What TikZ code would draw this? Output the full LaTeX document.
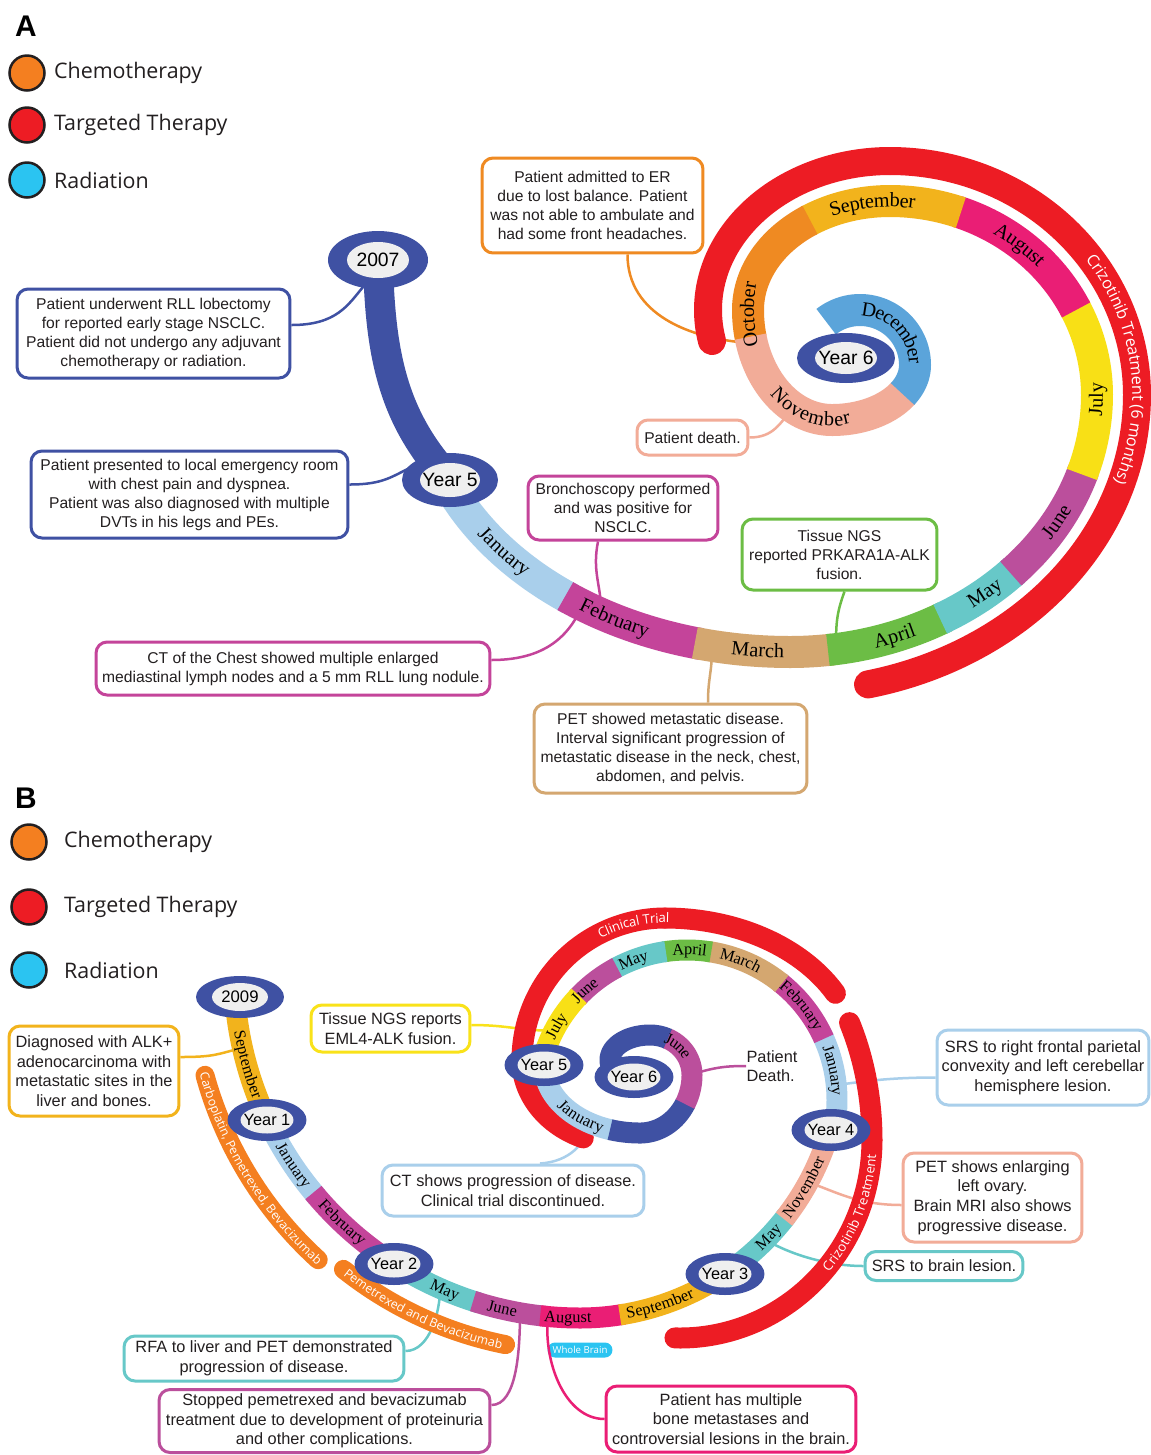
\documentclass[tikz,border=0pt]{standalone}
\usepackage{fontspec}
\setmainfont{Liberation Sans}
\newfontfamily\serifmonth{Liberation Serif}
\newfontfamily\legfont{Open Sans}
\usetikzlibrary{shapes.geometric, decorations.text, positioning}

\definecolor{yearblue}{HTML}{3F51A3}
\definecolor{ringin}{HTML}{EFEFEF}
\definecolor{janc}{HTML}{A9CFEB}
\definecolor{febc}{HTML}{C4449A}
\definecolor{marc}{HTML}{D4A770}
\definecolor{aprc}{HTML}{6CBD45}
\definecolor{mayc}{HTML}{67C8C8}
\definecolor{junc}{HTML}{BB4F9C}
\definecolor{julc}{HTML}{F8E016}
\definecolor{augc}{HTML}{EA1E75}
\definecolor{sepc}{HTML}{F2B31C}
\definecolor{octc}{HTML}{EF8A22}
\definecolor{novc}{HTML}{F2AC98}
\definecolor{decc}{HTML}{5BA4DA}
\definecolor{tred}{HTML}{ED1C24}
\definecolor{chemo}{HTML}{F47F20}
\definecolor{radio}{HTML}{2BC4F1}
\definecolor{inkc}{HTML}{231F20}
\definecolor{ngsyel}{HTML}{F9E21A}

\newcommand{\earc}[6]{plot[domain=#5:#6, samples=100] ({#1+#3*cos(\x)},{#2+#4*sin(\x)})}
\newcommand{\mA}{\serifmonth\fontsize{11.5}{12}\selectfont}
\newcommand{\mB}{\serifmonth\fontsize{9.3}{10}\selectfont}

\begin{document}
\begin{tikzpicture}[x=0.02cm, y=-0.02cm,
    bandA/.style={line width=0.64cm},
    bandB/.style={line width=0.42cm},
    redA/.style={line width=0.56cm, tred, line cap=round},
    redB/.style={line width=0.42cm, tred, line cap=round},
    chemobar/.style={line width=0.38cm, chemo, line cap=round},
    spine/.style={line width=0.6cm, yearblue},
    event/.style={draw=#1, line width=0.06cm, rounded corners=0.22cm, fill=white, align=center, inner sep=0pt, text=inkc, font=\fontsize{8.9}{10.8}\selectfont},
    eventB/.style={event=#1, font=\fontsize{9.3}{11.2}\selectfont},
    link/.style={draw=#1, line width=0.05cm},
    ring/.style={ellipse, fill=yearblue, inner sep=0pt},
    ringtext/.style={ellipse, fill=ringin, inner sep=0pt, text=black},
    legdot/.style={circle, draw=inkc, line width=0.05cm, minimum size=0.7cm, fill=#1},
    legtext/.style={font=\legfont\fontsize{12.2}{14}\selectfont, text=inkc, inner sep=0pt},
    alab/.style={decorate, decoration={text along path, text align=center, raise=-3.4pt, text={|\mA|#1}}},
    blab/.style={decorate, decoration={text along path, text align=center, raise=-2.8pt, text={|\mB|#1}}},
    wlab/.style 2 args={decorate, decoration={text along path, text align=center, raise=-2.7pt, text={|\color{white}\legfont\fontsize{#2}{#2}\selectfont|#1}}}
  ]
  \useasboundingbox (0,0) rectangle (1151,1455);
  \fill[white] (0,0) rectangle (1151,1455);

  % legend A
  \node[font=\bfseries\fontsize{17}{17}\selectfont] (tagA) at (26,26) {A};
  \node[legdot=chemo] (dA1) at (27,73) {};
  \node[legtext, right=0.16cm of dA1] (tA1) {Chemotherapy};
  \node[legdot=tred] (dA2) at (27,125) {};
  \node[legtext, right=0.16cm of dA2] (tA2) {Targeted Therapy};
  \node[legdot=radio] (dA3) at (27,180) {};
  \node[legtext, right=0.16cm of dA3] (tA3) {Radiation};

  % boxes A
  \node[event=yearblue, minimum width=5.46cm, minimum height=1.78cm] (a1) at (153.5,333.5) {Patient underwent RLL lobectomy\\for reported early stage NSCLC.\\Patient did not undergo any adjuvant\\chemotherapy or radiation.};
  \node[event=yearblue, minimum width=6.34cm, minimum height=1.74cm] (a2) at (189.5,494.5) {Patient presented to local emergency room\\with chest pain and dyspnea.\\Patient was also diagnosed with multiple\\DVTs in his legs and PEs.};
  \node[event=octc, minimum width=4.42cm, minimum height=1.9cm] (a3) at (592.5,205.5) {Patient admitted to ER\\due to lost balance. Patient\\was not able to ambulate and\\had some front headaches.};
  \node[event=novc, minimum width=2.22cm, minimum height=0.7cm] (a4) at (692.5,437.5) {Patient death.};
  \node[event=febc, minimum width=3.8cm, minimum height=1.28cm] (a5) at (623,508) {Bronchoscopy performed\\and was positive for\\NSCLC.};
  \node[event=febc, minimum width=7.88cm, minimum height=1.06cm] (a6) at (293,668.5) {CT of the Chest showed multiple enlarged\\mediastinal lymph nodes and a 5 mm RLL lung nodule.};
  \node[event=aprc, minimum width=3.9cm, minimum height=1.42cm] (a7) at (839.5,554.5) {Tissue NGS\\reported PRKARA1A-ALK\\fusion.};
  \node[event=marc, minimum width=5.46cm, minimum height=1.78cm] (a8) at (670.5,748.5) {PET showed metastatic disease.\\Interval significant progression of\\metastatic disease in the neck, chest,\\abdomen, and pelvis.};

  \coordinate (p2007) at (378,260);
  \coordinate (pY5a) at (450,480);
  \coordinate (pY6a) at (846,358);
  \coordinate (cA1) at (363,287);
  \coordinate (cA2) at (414,466);
  \coordinate (cA3) at (750,343);
  \coordinate (cA4) at (792,410);
  \coordinate (cA5) at (601,610);
  \coordinate (cA6) at (583,605);
  \coordinate (cA7) at (836,648);
  \coordinate (cA8) at (712,648);

  \draw[link=yearblue] ([yshift=0.17cm]a1.east) .. controls +(45,0) and +(-15,18) .. (cA1);
  \draw[link=yearblue] ([yshift=0.2cm]a2.east) .. controls +(35,0) and +(-22,10) .. (cA2);
  \draw[link=octc] ([xshift=0.7cm]a3.south) .. controls +(0,60) and +(-60,-4) .. (cA3);
  \draw[link=novc] (a4.east) .. controls +(25,0) and +(-12,12) .. (cA4);
  \draw[link=febc] ([xshift=-0.5cm]a5.south) .. controls +(-6,30) and +(0,-25) .. (cA5);
  \draw[link=febc] ([yshift=0.17cm]a6.east) .. controls +(60,0) and +(-12,25) .. (cA6);
  \draw[link=aprc] ([xshift=0.1cm]a7.south) .. controls +(-8,22) and +(0,-25) .. (cA7);
  \draw[link=marc] ([xshift=0.75cm]a8.north) .. controls +(0,-25) and +(0,25) .. (cA8);

  % crizotinib A
  \draw[redA] \earc{790}{395}{347}{297}{77}{0};
  \draw[redA] \earc{890}{395}{247}{234}{0}{-90};
  \draw[redA] \earc{890}{310}{182}{149}{-90}{-192};

  % timeline A
  \draw[spine] (p2007) .. controls +(2,100) and +(-55,-60) .. (pY5a);
  \draw[bandA, janc] \earc{790}{380}{370}{272}{160}{126.4};
  \draw[bandA, febc] \earc{790}{380}{370}{272}{127.4}{103.9};
  \draw[bandA, marc] \earc{790}{380}{370}{272}{104.9}{89} \earc{790}{395}{307}{257}{90}{81.9};
  \draw[bandA, aprc] \earc{790}{395}{307}{257}{82.9}{59.7};
  \draw[bandA, mayc] \earc{790}{395}{307}{257}{60.7}{43};
  \draw[bandA, junc] \earc{790}{395}{307}{257}{44}{17};
  \draw[bandA, julc] \earc{790}{395}{307}{257}{18}{-1} \earc{890}{395}{207}{194}{0}{-27};
  \draw[bandA, augc] \earc{890}{395}{207}{194}{-26}{-71};
  \draw[bandA, sepc] \earc{890}{395}{207}{194}{-70}{-91} \earc{890}{310}{142}{109}{-90}{-125.3};
  \draw[bandA, octc] \earc{890}{310}{142}{109}{-124.3}{-181} \earc{832}{310}{84}{110}{-180}{-195};
  \draw[bandA, novc] \earc{832}{310}{84}{110}{-194}{-271} \earc{832}{365}{83}{55}{90}{30.8};
  \draw[bandA, decc] \earc{832}{365}{83}{55}{31.8}{-1} \earc{860}{365}{55}{55}{0}{-128};

  \node[ring, minimum width=2cm, minimum height=1.16cm] (y2007) at (p2007) {};
  \node[ringtext, minimum width=1.24cm, minimum height=0.72cm, font=\fontsize{11}{11}\selectfont] (y2007t) at (y2007) {\makebox[0pt]{2007}};
  \node[ring, minimum width=1.92cm, minimum height=1.08cm] (y5a) at (pY5a) {};
  \node[ringtext, minimum width=1.2cm, minimum height=0.68cm, font=\fontsize{11}{11}\selectfont] (y5at) at (y5a) {\makebox[0pt]{Year 5}};
  \node[ring, minimum width=1.96cm, minimum height=1cm] (y6a) at (pY6a) {};
  \node[ringtext, minimum width=1.24cm, minimum height=0.64cm, font=\fontsize{11}{11}\selectfont] (y6at) at (y6a) {\makebox[0pt]{Year 6}};

  \path[alab=January] \earc{790}{380}{370}{272}{151}{131};
  \path[alab=February] \earc{790}{380}{370}{272}{127}{110};
  \path[alab=March] \earc{790}{380}{370}{272}{101}{89};
  \path[alab=April] \earc{790}{395}{307}{257}{78}{62};
  \path[alab=May] \earc{790}{395}{307}{257}{58}{43};
  \path[alab=June] \earc{790}{395}{307}{257}{38}{21};
  \path[alab=July] \earc{790}{395}{307}{257}{12}{-10};
  \path[alab=August] \earc{890}{395}{207}{194}{-64}{-38};
  \path[alab=September] \earc{890}{310}{142}{109}{-125}{-70};
  \path[alab=October] \earc{832}{310}{84}{110}{-208}{-157};
  \path[alab=November] \earc{832}{310}{84}{110}{-218}{-292};
  \path[alab=December] \earc{860}{365}{55}{55}{-92}{2};
  \path[wlab={Crizotinib Treatment (6 months)}{9.2}] \earc{890}{395}{247}{234}{-42}{28};

  % legend B
  \node[font=\bfseries\fontsize{17}{17}\selectfont] (tagB) at (26,798) {B};
  \node[legdot=chemo] (dB1) at (29,842) {};
  \node[legtext, right=0.32cm of dB1] (tB1) {Chemotherapy};
  \node[legdot=tred] (dB2) at (29,907) {};
  \node[legtext, right=0.32cm of dB2] (tB2) {Targeted Therapy};
  \node[legdot=radio] (dB3) at (29,970) {};
  \node[legtext, right=0.32cm of dB3] (tB3) {Radiation};

  % boxes B
  \node[eventB=sepc, minimum width=3.4cm, minimum height=1.8cm] (b1) at (94,1071) {Diagnosed with ALK+\\adenocarcinoma with\\metastatic sites in the\\liver and bones.};
  \node[eventB=ngsyel, minimum width=3.18cm, minimum height=0.94cm] (b2) at (390.5,1028.5) {Tissue NGS reports\\EML4-ALK fusion.};
  \node[eventB=janc, minimum width=5.24cm, minimum height=1.02cm] (b3) at (513,1190.5) {CT shows progression of disease.\\Clinical trial discontinued.};
  \node[eventB=janc, minimum width=4.24cm, minimum height=1.5cm] (b4) at (1043,1067.5) {SRS to right frontal parietal\\convexity and left cerebellar\\hemisphere lesion.};
  \node[eventB=novc, minimum width=3.58cm, minimum height=1.78cm] (b5) at (992.5,1197.5) {PET shows enlarging\\left ovary.\\Brain MRI also shows\\progressive disease.};
  \node[eventB=mayc, minimum width=3.16cm, minimum height=0.58cm] (b6) at (944,1266) {SRS to brain lesion.};
  \node[eventB=mayc, minimum width=5.6cm, minimum height=0.9cm] (b7) at (264,1358.5) {RFA to liver and PET demonstrated\\progression of disease.};
  \node[eventB=junc, minimum width=6.62cm, minimum height=1.26cm] (b8) at (324.5,1421) {Stopped pemetrexed and bevacizumab\\treatment due to development of proteinuria\\and other complications.};
  \node[eventB=augc, minimum width=5cm, minimum height=1.32cm] (b9) at (731,1419) {Patient has multiple\\bone metastases and\\controversial lesions in the brain.};
  \node[font=\fontsize{9.3}{11.2}\selectfont, align=left, text=inkc, inner sep=0pt] (pdeath) at (772,1066) {Patient\\Death.};
  \node[fill=radio, rounded corners=0.15cm, minimum width=1.3cm, minimum height=0.3cm, inner sep=0pt, text=white, font=\legfont\fontsize{5.5}{6}\selectfont] (wbrain) at (580,1350) {Whole Brain};

  \coordinate (p2009) at (240,997);
  \coordinate (pY1) at (267,1120);
  \coordinate (pY2) at (394,1264);
  \coordinate (pY3) at (725,1274);
  \coordinate (pY4) at (831,1130);
  \coordinate (pY5b) at (544,1065);
  \coordinate (pY6b) at (634,1077);
  \coordinate (cB1) at (242,1048);
  \coordinate (cB2) at (554,1030);
  \coordinate (cB3) at (592,1124);
  \coordinate (cB4) at (836,1085);
  \coordinate (cB5) at (810,1183);
  \coordinate (cB6) at (766,1240);
  \coordinate (cB7) at (440,1290);
  \coordinate (cB8) at (520,1312);
  \coordinate (cB9) at (548,1316);
  \coordinate (cB10) at (690,1075);

  \draw[link=sepc] ([yshift=0.28cm]b1.east) .. controls +(35,0) and +(-25,6) .. (cB1);
  \draw[link=ngsyel] ([yshift=0.07cm]b2.east) .. controls +(40,0) and +(-30,2) .. (cB2);
  \draw[link=janc] ([xshift=0.54cm]b3.north) .. controls +(30,-2) and +(-8,20) .. (cB3);
  \draw[link=janc] ([yshift=-0.2cm]b4.west) .. controls +(-50,0) and +(25,-3) .. (cB4);
  \draw[link=novc] ([yshift=-0.15cm]b5.west) .. controls +(-45,0) and +(25,8) .. (cB5);
  \draw[link=mayc] (b6.west) .. controls +(-40,0) and +(20,12) .. (cB6);
  \draw[link=mayc] ([yshift=0.15cm]b7.east) .. controls +(25,0) and +(0,20) .. (cB7);
  \draw[link=junc] ([yshift=0.32cm]b8.east) .. controls +(25,0) and +(0,40) .. (cB8);
  \draw[link=augc] (b9.west) .. controls +(-40,0) and +(-5,45) .. (cB9);
  \draw[link=junc] (cB10) .. controls +(25,-8) and +(-20,0) .. (pdeath.west);

  % treatment bars B
  \draw[chemobar] \earc{580}{972}{389}{389}{164.6}{132.3};
  \draw[chemobar] \earc{580}{972}{380}{380}{128.5}{101.3};
  \draw[redB] \earc{620}{1060}{98}{84}{112}{180};
  \draw[redB] \earc{665}{1060}{143}{142}{180}{270};
  \draw[redB] \earc{665}{1060}{193}{142}{270}{332};
  \draw[redB] \earc{680}{1140}{192}{250}{-28}{0};
  \draw[redB] \earc{680}{1140}{192}{198}{0}{91.5};

  % timeline B
  \draw[bandB, sepc] \earc{580}{972}{346}{346}{176}{153.7};
  \draw[bandB, janc] \earc{580}{972}{346}{346}{154.7}{139.4};
  \draw[bandB, febc] \earc{580}{972}{346}{346}{140.4}{121.5};
  \draw[bandB, mayc] \earc{580}{972}{346}{346}{122.5}{107};
  \draw[bandB, junc] \earc{580}{972}{346}{346}{108}{95.6};
  \draw[bandB, augc] \earc{580}{972}{346}{346}{96.6}{89} \earc{580}{1058}{260}{260}{90}{80.2};
  \draw[bandB, sepc] \earc{580}{1058}{260}{260}{81.2}{55.1};
  \draw[bandB, mayc] \earc{580}{1058}{260}{260}{56.1}{37.3};
  \draw[bandB, novc] \earc{580}{1058}{260}{260}{38.3}{15};
  \draw[bandB, janc] \earc{687}{1100}{150}{150}{14}{-25.1};
  \draw[bandB, febc] \earc{687}{1100}{150}{150}{-24.1}{-51.8};
  \draw[bandB, marc] \earc{687}{1100}{150}{150}{-50.8}{-81.7};
  \draw[bandB, aprc] \earc{687}{1100}{150}{150}{-80.7}{-99.1};
  \draw[bandB, mayc] \earc{687}{1100}{150}{150}{-98.1}{-118.8};
  \draw[bandB, junc] \earc{687}{1100}{150}{150}{-117.8}{-137};
  \draw[bandB, julc] \earc{687}{1100}{150}{150}{-136}{-168};
  \draw[bandB, janc] \earc{640}{1065}{96}{68}{180}{107.2};
  \draw[bandB, yearblue] \earc{640}{1065}{96}{68}{108.2}{89} \earc{640}{1075}{52}{58}{90}{29};
  \draw[bandB, junc] \earc{640}{1075}{52}{58}{30}{-1} \earc{650}{1075}{42}{40}{0}{-66};
  \draw[bandB, yearblue] \earc{650}{1075}{42}{40}{-65}{-91} \earc{650}{1060}{40}{25}{-90}{-200};

  \node[ring, minimum width=1.76cm, minimum height=0.84cm] (y2009) at (p2009) {};
  \node[ringtext, minimum width=1.12cm, minimum height=0.56cm, font=\fontsize{9.5}{9.5}\selectfont] (y2009t) at (y2009) {\makebox[0pt]{2009}};
  \foreach \yr/\pos in {1/pY1, 2/pY2, 3/pY3, 4/pY4, 5/pY5b, 6/pY6b} {
    \node[ring, minimum width=1.58cm, minimum height=0.84cm] (yb\yr) at (\pos) {};
    \node[ringtext, minimum width=1.06cm, minimum height=0.54cm, font=\fontsize{9.3}{9.3}\selectfont] (yb\yr t) at (yb\yr) {\makebox[0pt]{Year \yr}};
  }

  \path[blab=September] \earc{580}{972}{346}{346}{172}{157};
  \path[blab=January] \earc{580}{972}{346}{346}{153}{139};
  \path[blab=February] \earc{580}{972}{346}{346}{141}{126};
  \path[blab=May] \earc{580}{972}{346}{346}{120}{106};
  \path[blab=June] \earc{580}{972}{346}{346}{109}{97};
  \path[blab=August] \earc{580}{972}{346}{346}{99}{85};
  \path[blab=September] \earc{580}{1058}{260}{260}{82}{62};
  \path[blab=May] \earc{580}{1058}{260}{260}{51}{36};
  \path[blab=November] \earc{580}{1058}{260}{260}{40}{20};
  \path[blab=January] \earc{687}{1100}{150}{150}{-25}{2};
  \path[blab=February] \earc{687}{1100}{150}{150}{-53}{-26};
  \path[blab=March] \earc{687}{1100}{150}{150}{-82}{-56};
  \path[blab=April] \earc{687}{1100}{150}{150}{-99}{-79};
  \path[blab=May] \earc{687}{1100}{150}{150}{-120}{-102};
  \path[blab=June] \earc{687}{1100}{150}{150}{-142}{-124};
  \path[blab=July] \earc{687}{1100}{150}{150}{-160}{-141};
  \path[blab=January] \earc{640}{1065}{96}{68}{152}{108};
  \path[blab=June] \earc{650}{1075}{42}{40}{-75}{-20};
  \path[wlab={Clinical Trial}{7.5}] \earc{665}{1060}{143}{142}{232}{282};
  \path[wlab={Crizotinib Treatment}{7.5}] \earc{680}{1140}{192}{198}{45}{0};
  \path[wlab={Carboplatin, Pemetrexed, Bevacizumab}{7}] \earc{580}{972}{389}{389}{164.6}{132.3};
  \path[wlab={Pemetrexed and Bevacizumab}{7}] \earc{580}{972}{380}{380}{128.5}{101.3};
\end{tikzpicture}
\end{document}
